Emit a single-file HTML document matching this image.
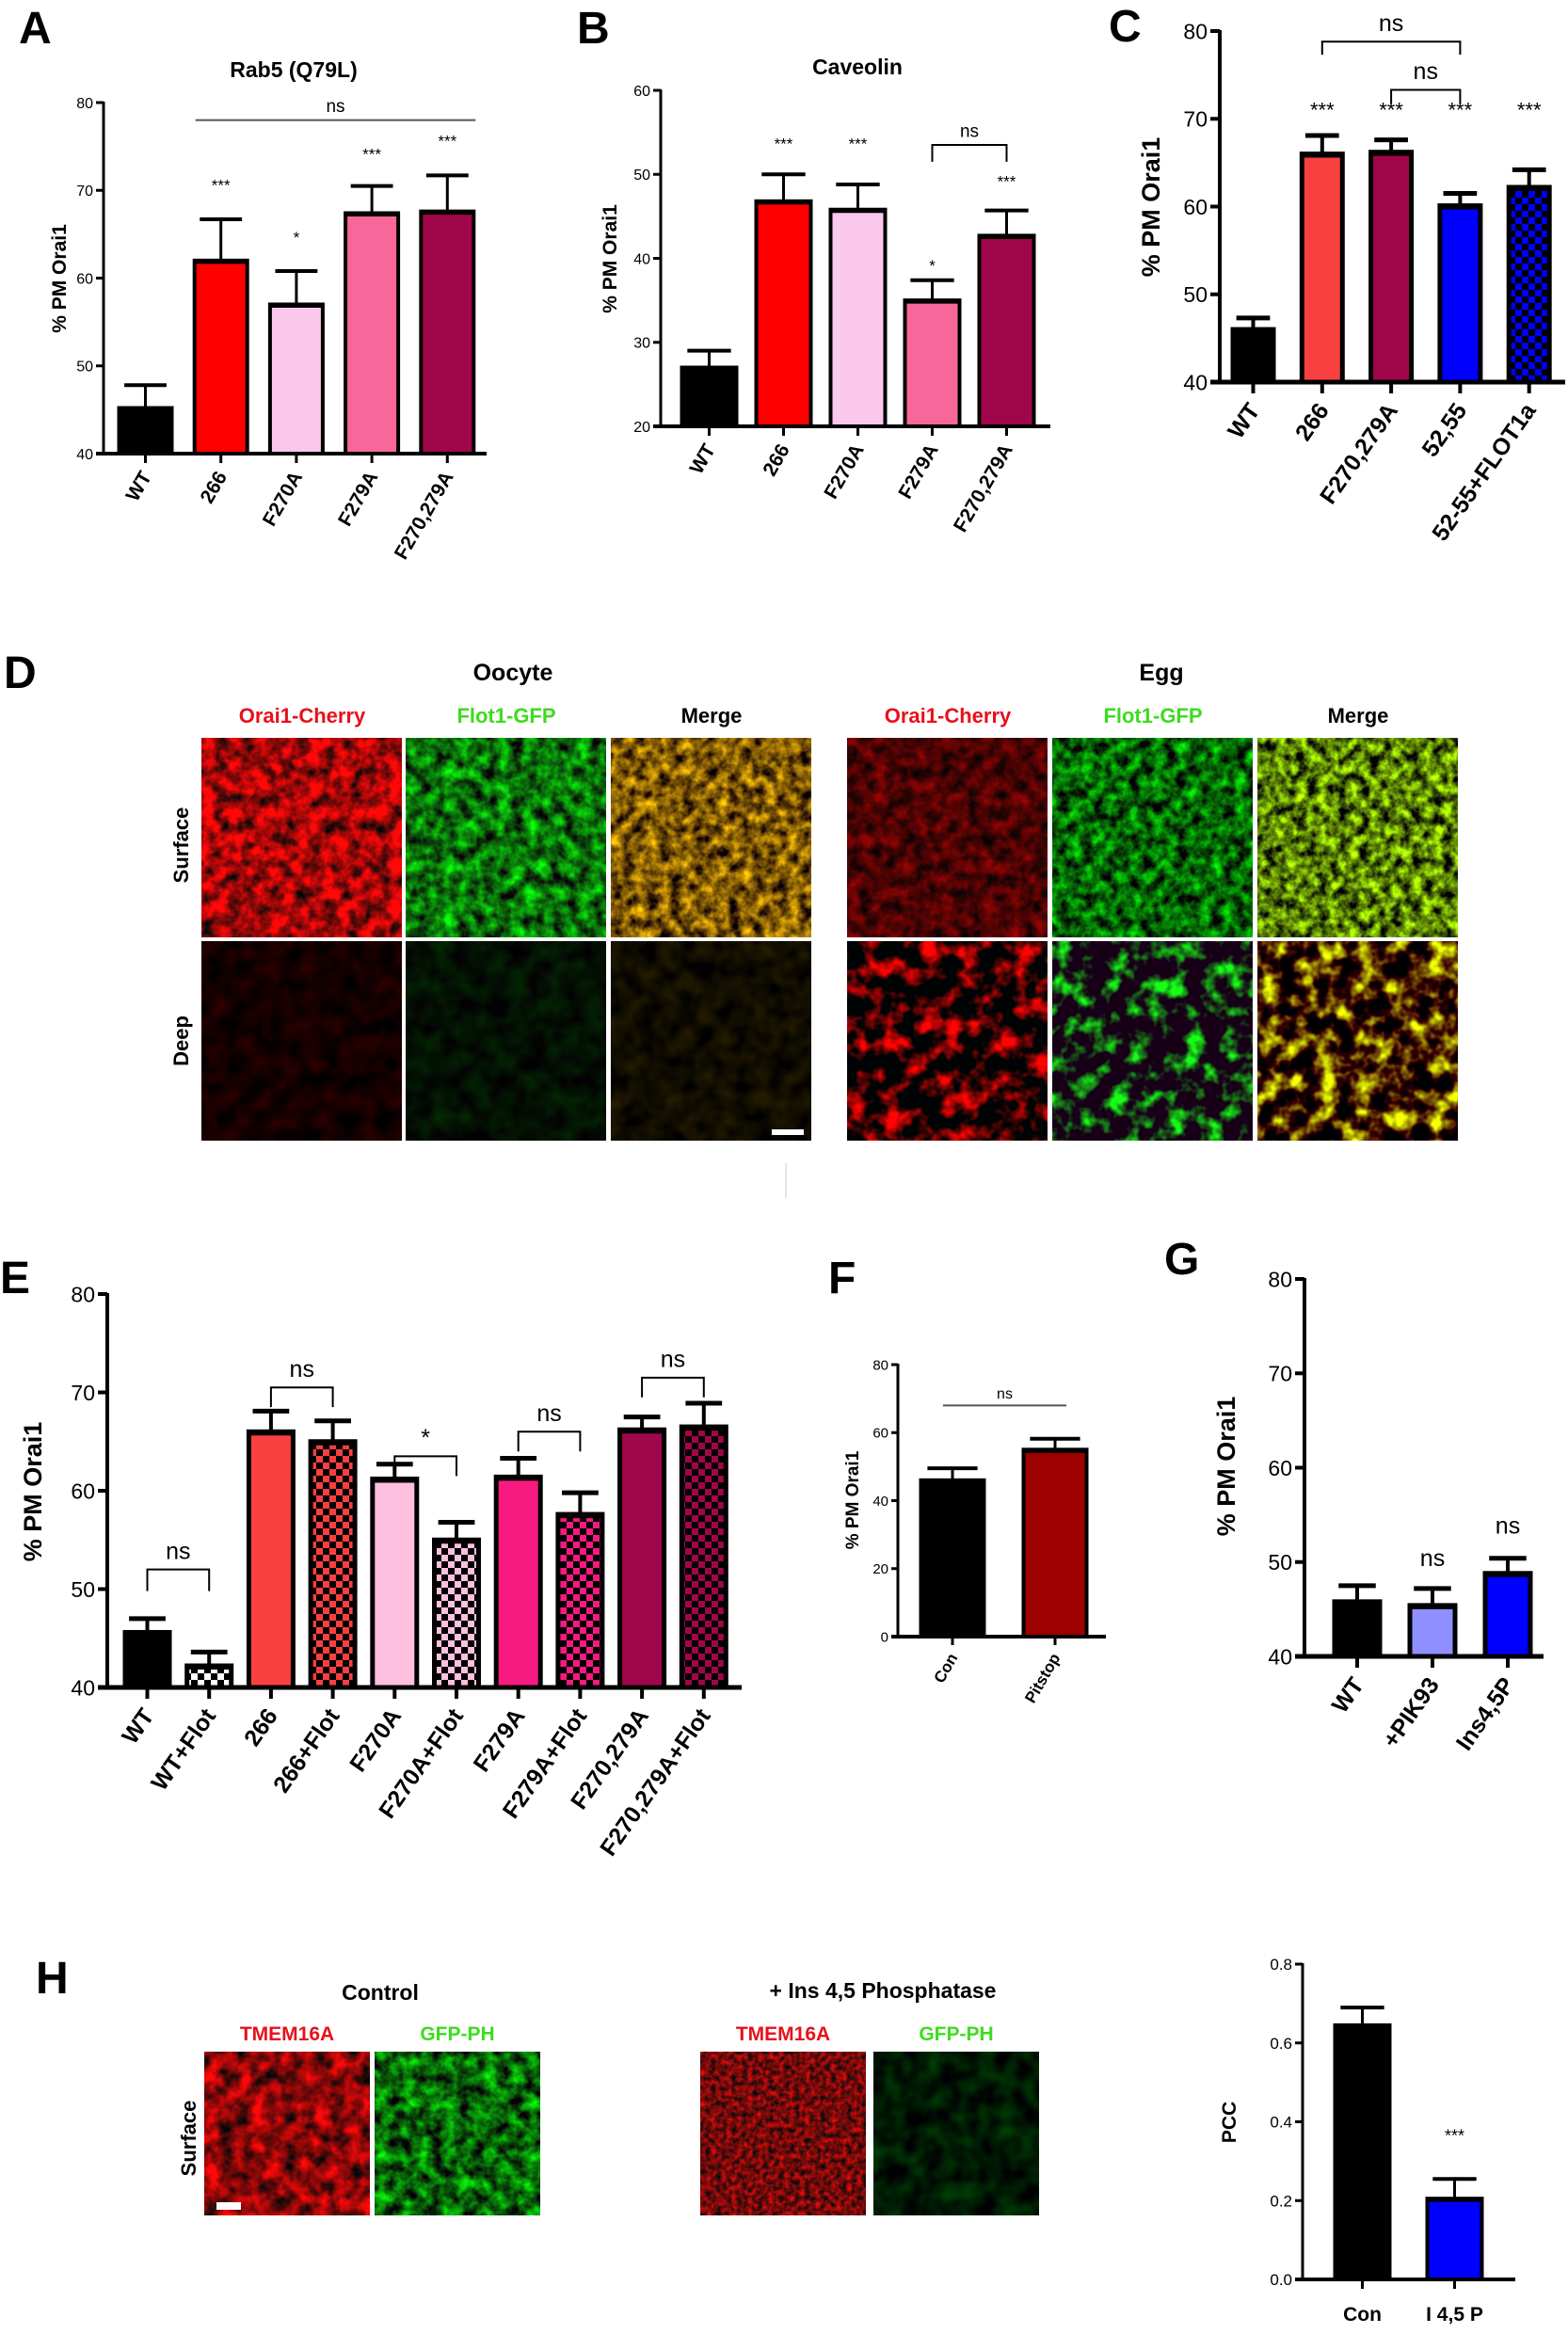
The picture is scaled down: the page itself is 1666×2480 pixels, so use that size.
<!DOCTYPE html>
<html><head><meta charset="utf-8"><style>
html,body{margin:0;padding:0;background:#fff;}
svg{display:block;font-family:"Liberation Sans",Arial,sans-serif;}
filter{color-interpolation-filters:sRGB;}
</style></head><body>
<svg id="fig" xmlns="http://www.w3.org/2000/svg" width="1666" height="2480" viewBox="0 0 1666 2480">
<defs>
<pattern id="chkWhite" width="14" height="14" patternUnits="userSpaceOnUse"><rect width="14" height="14" fill="#fff"/><rect width="7" height="7" fill="#000"/><rect x="7" y="7" width="7" height="7" fill="#000"/></pattern>
<pattern id="chkRed" width="14" height="14" patternUnits="userSpaceOnUse"><rect width="14" height="14" fill="#f94040"/><rect width="7" height="7" fill="#000"/><rect x="7" y="7" width="7" height="7" fill="#000"/></pattern>
<pattern id="chkPink" width="14" height="14" patternUnits="userSpaceOnUse"><rect width="14" height="14" fill="#ffc0e0"/><rect width="7" height="7" fill="#000"/><rect x="7" y="7" width="7" height="7" fill="#000"/></pattern>
<pattern id="chkHot" width="14" height="14" patternUnits="userSpaceOnUse"><rect width="14" height="14" fill="#f71a80"/><rect width="7" height="7" fill="#000"/><rect x="7" y="7" width="7" height="7" fill="#000"/></pattern>
<pattern id="chkMaroon" width="14" height="14" patternUnits="userSpaceOnUse"><rect width="14" height="14" fill="#a0064a"/><rect width="7" height="7" fill="#000"/><rect x="7" y="7" width="7" height="7" fill="#000"/></pattern>
<pattern id="chkBlue" width="14" height="14" patternUnits="userSpaceOnUse"><rect width="14" height="14" fill="#0000ff"/><rect width="7" height="7" fill="#000"/><rect x="7" y="7" width="7" height="7" fill="#000"/></pattern>
<filter id="fRedS" x="0" y="0" width="1" height="1" color-interpolation-filters="sRGB"><feTurbulence type="fractalNoise" baseFrequency="0.07" numOctaves="3" seed="2"/><feColorMatrix type="matrix" values="2.0 0 0 0 -0.35  0 0 0 0 0.03  0 0 0 0 0.03  0 0 0 0 1"/></filter>
<filter id="fGreenS" x="0" y="0" width="1" height="1" color-interpolation-filters="sRGB"><feTurbulence type="fractalNoise" baseFrequency="0.07" numOctaves="3" seed="3"/><feColorMatrix type="matrix" values="0 0 0 0 0.04  1.6 0 0 0 -0.35  0 0 0 0 0.04  0 0 0 0 1"/></filter>
<filter id="fYelS" x="0" y="0" width="1" height="1" color-interpolation-filters="sRGB"><feTurbulence type="fractalNoise" baseFrequency="0.08" numOctaves="3" seed="4"/><feColorMatrix type="matrix" values="1.6 0 0 0 -0.3  1.3 0 0 0 -0.3  0 0 0 0 0.02  0 0 0 0 1"/></filter>
<filter id="fRedD" x="0" y="0" width="1" height="1" color-interpolation-filters="sRGB"><feTurbulence type="fractalNoise" baseFrequency="0.05" numOctaves="2" seed="5"/><feColorMatrix type="matrix" values="0.3 0 0 0 -0.07  0 0 0 0 0  0 0 0 0 0  0 0 0 0 1"/></filter>
<filter id="fGreenD" x="0" y="0" width="1" height="1" color-interpolation-filters="sRGB"><feTurbulence type="fractalNoise" baseFrequency="0.05" numOctaves="2" seed="6"/><feColorMatrix type="matrix" values="0 0 0 0 0.01  0.25 0 0 0 -0.06  0 0 0 0 0.01  0 0 0 0 1"/></filter>
<filter id="fYelD" x="0" y="0" width="1" height="1" color-interpolation-filters="sRGB"><feTurbulence type="fractalNoise" baseFrequency="0.05" numOctaves="2" seed="7"/><feColorMatrix type="matrix" values="0.25 0 0 0 -0.06  0.2 0 0 0 -0.05  0 0 0 0 0  0 0 0 0 1"/></filter>
<filter id="fRedE" x="0" y="0" width="1" height="1" color-interpolation-filters="sRGB"><feTurbulence type="fractalNoise" baseFrequency="0.07" numOctaves="3" seed="8"/><feColorMatrix type="matrix" values="0.9 0 0 0 -0.15  0 0 0 0 0.01  0 0 0 0 0.01  0 0 0 0 1"/></filter>
<filter id="fGreenE" x="0" y="0" width="1" height="1" color-interpolation-filters="sRGB"><feTurbulence type="fractalNoise" baseFrequency="0.08" numOctaves="3" seed="9"/><feColorMatrix type="matrix" values="0 0 0 0 0.02  1.6 0 0 0 -0.4  0 0 0 0 0.02  0 0 0 0 1"/></filter>
<filter id="fYelE" x="0" y="0" width="1" height="1" color-interpolation-filters="sRGB"><feTurbulence type="fractalNoise" baseFrequency="0.09" numOctaves="3" seed="10"/><feColorMatrix type="matrix" values="1.4 0 0 0 -0.35  2.0 0 0 0 -0.5  0 0 0 0 0.02  0 0 0 0 1"/></filter>
<filter id="fRedB" x="0" y="0" width="1" height="1" color-interpolation-filters="sRGB"><feTurbulence type="fractalNoise" baseFrequency="0.05" numOctaves="3" seed="11"/><feColorMatrix type="matrix" values="3.0 0 0 0 -1.3  0 0 0 0 0.01  0 0 0 0 0.01  0 0 0 0 1"/></filter>
<filter id="fGreenB" x="0" y="0" width="1" height="1" color-interpolation-filters="sRGB"><feTurbulence type="fractalNoise" baseFrequency="0.05" numOctaves="3" seed="12"/><feColorMatrix type="matrix" values="0 0 0 0 0.09  3.2 0 0 0 -1.5  0 0 0 0 0.09  0 0 0 0 1"/></filter>
<filter id="fYelB" x="0" y="0" width="1" height="1" color-interpolation-filters="sRGB"><feTurbulence type="fractalNoise" baseFrequency="0.05" numOctaves="3" seed="13"/><feColorMatrix type="matrix" values="2.4 0 0 0 -0.9  3.5 0 0 0 -1.65  0 0 0 0 0.01  0 0 0 0 1"/></filter>
<filter id="fRedH1" x="0" y="0" width="1" height="1" color-interpolation-filters="sRGB"><feTurbulence type="fractalNoise" baseFrequency="0.06" numOctaves="3" seed="14"/><feColorMatrix type="matrix" values="1.8 0 0 0 -0.35  0 0 0 0 0.03  0 0 0 0 0.03  0 0 0 0 1"/></filter>
<filter id="fGreenH1" x="0" y="0" width="1" height="1" color-interpolation-filters="sRGB"><feTurbulence type="fractalNoise" baseFrequency="0.07" numOctaves="3" seed="15"/><feColorMatrix type="matrix" values="0 0 0 0 0.03  1.6 0 0 0 -0.4  0 0 0 0 0.03  0 0 0 0 1"/></filter>
<filter id="fRedH2" x="0" y="0" width="1" height="1" color-interpolation-filters="sRGB"><feTurbulence type="fractalNoise" baseFrequency="0.18" numOctaves="2" seed="16"/><feColorMatrix type="matrix" values="1.4 0 0 0 -0.25  0 0 0 0 0.04  0 0 0 0 0.04  0 0 0 0 1"/></filter>
<filter id="fGreenH2" x="0" y="0" width="1" height="1" color-interpolation-filters="sRGB"><feTurbulence type="fractalNoise" baseFrequency="0.05" numOctaves="2" seed="17"/><feColorMatrix type="matrix" values="0 0 0 0 0  0.4 0 0 0 -0.1  0 0 0 0 0.01  0 0 0 0 1"/></filter>
</defs>
<g id="root"></g>
</svg>
<script>
// ===== Chart data =====
const aCats=['WT','266','F270A','F279A','F270,279A'];
const aVals=[45.2,62.0,57.0,67.4,67.6];
const aErrs=[2.6,4.7,3.8,3.1,4.1];
const aStars=['','***','*','***','***'];
const aStarLv=[0,70,64,73.5,75];
const aTicks=[40,50,60,70,80];

const bCats=['WT','266','F270A','F279A','F270,279A'];
const bVals=[27.0,46.8,45.8,35.0,42.7];
const bErrs=[2.0,3.2,3.0,2.4,3.0];
const bStars=['','***','***','*','***'];
const bStarLv=[0,53,53,38.5,48.5];
const bTicks=[20,30,40,50,60];

const cCats=['WT','266','F270,279A','52,55','52-55+FLOT1a'];
const cVals=[46.0,66.0,66.2,60.1,62.2];
const cErrs=[1.3,2.1,1.4,1.4,2.0];
const cStars=['','***','***','***','***'];
const cStarLv=[0,70.2,70.2,70.2,70.2];
const cTicks=[40,50,60,70,80];

const eCats=['WT','WT+Flot','266','266+Flot','F270A','F270A+Flot','F279A','F279A+Flot','F270,279A','F270,279A+Flot'];
const eVals=[45.6,42.2,66.0,65.0,61.2,55.0,61.4,57.6,66.2,66.5];
const eErrs=[1.4,1.4,2.1,2.1,1.5,1.8,1.9,2.2,1.3,2.4];
const eTicks=[40,50,60,70,80];

const fCats=['Con','Pitstop'];
const fVals=[46.0,55.0];
const fErrs=[3.5,3.2];
const fTicks=[0,20,40,60,80];

const gCats=['WT','+PIK93','Ins4,5P'];
const gVals=[45.8,45.4,48.8];
const gErrs=[1.7,1.8,1.6];
const gStars=['','ns','ns'];
const gStarLv=[0,49.6,53.0];
const gTicks=[40,50,60,70,80];

const hCats=['Con','I 4,5 P'];
const hVals=[0.645,0.205];
const hErrs=[0.045,0.05];
const hStars=['','***'];
const hStarLv=[0,0.35];
const hTicks=[0.0,0.2,0.4,0.6,0.8];

const NS='http://www.w3.org/2000/svg';
const root=document.getElementById('root');
function mk(tag,attrs,parent){const e=document.createElementNS(NS,tag);for(const k in attrs)e.setAttribute(k,attrs[k]);(parent||root).appendChild(e);return e;}
function txt(s,attrs,parent){const e=mk('text',attrs,parent);e.textContent=s;return e;}

function chart(L,cats,vals,errs,fills,tickVals,tickFmt){
  const g=mk('g',{});
  
  
  const y=v=>L.y0-(v-L.vmin)/(L.vmax-L.vmin)*(L.y0-L.y1);
  const cx=i=>L.bx0+i*L.step+L.bw/2;
  cats.forEach((c,i)=>{
    const top=y(vals[i]);
    const eb=mk('line',{x1:cx(i),x2:cx(i),y1:top,y2:y(vals[i]+errs[i]),stroke:'#000','stroke-width':L.lw},g);
    
    
    const cap=mk('line',{x1:cx(i)-L.bw*0.38,x2:cx(i)+L.bw*0.38,y1:y(vals[i]+errs[i]),y2:y(vals[i]+errs[i]),stroke:'#000','stroke-width':L.lw+1},g);
    
    
    const r=mk('rect',{x:L.bx0+i*L.step+L.lw/2,y:top,width:L.bw-L.lw,height:L.y0-top,fill:fills[i],stroke:'#000','stroke-width':L.lw+1},g);
    
    
    const tl=mk('line',{x1:L.bx0+i*L.step,x2:L.bx0+i*L.step+L.bw,y1:top+1,y2:top+1,stroke:'#000','stroke-width':L.lw+2},g);
    
    
    const tk=mk('line',{x1:cx(i),x2:cx(i),y1:L.y0,y2:L.y0+L.tick+2,stroke:'#000','stroke-width':L.lw},g);
    
    
    let lb;
    if(L.rot){
      const lx=cx(i)+L.lox, ly=L.y0+L.loy;
      lb=txt(c,{x:lx,y:ly,'font-size':L.lf,'font-weight':'bold','text-anchor':'end',transform:`rotate(${L.rot} ${lx} ${ly})`},g);
    } else {
      lb=txt(c,{x:cx(i),y:L.y0+L.loy,'font-size':L.lf,'font-weight':'bold','text-anchor':'middle'},g);
    }
    
    
  });
  const ya=mk('line',{x1:L.ax,x2:L.ax,y1:L.y1-1,y2:L.y0+L.lw/2,stroke:'#000','stroke-width':L.lw},g);
  
  
  const xa=mk('line',{x1:L.ax-L.tick,x2:L.xEnd,y1:L.y0,y2:L.y0,stroke:'#000','stroke-width':L.lw+1},g);
  
  
  tickVals.forEach(t=>{
    const tl=mk('line',{x1:L.ax-L.tick,x2:L.ax,y1:y(t),y2:y(t),stroke:'#000','stroke-width':L.lw},g);
    
    
    const tt=txt(tickFmt(t),{x:L.ax-L.tick-3,y:y(t)+L.tf*0.36,'font-size':L.tf,'text-anchor':'end'},g);
    
    
  });
  const yl=txt(L.ylab,{x:L.ylx,y:L.yly,'font-size':L.ylf,'font-weight':'bold','text-anchor':'middle',transform:`rotate(-90 ${L.ylx} ${L.yly})`},g);
  
  
  return {g,y,cx};
}
function stars(C,labels,levels,size){
  labels.forEach((s,i)=>{ if(!s)return;
    const t=txt(s,{x:C.cx(i),y:C.y(levels[i]),'font-size':size,'text-anchor':'middle'},C.g);
    
    
  });
}
function bracket(C,i,j,lv,drop,label,size,lw){
  const y=C.y(lv), yd=C.y(lv-drop);
  const p=mk('path',{d:`M${C.cx(i)} ${yd} L${C.cx(i)} ${y} L${C.cx(j)} ${y} L${C.cx(j)} ${yd}`,fill:'none',stroke:'#000','stroke-width':lw},C.g);
  
  
  const t=txt(label,{x:(C.cx(i)+C.cx(j))/2,y:y-size*0.45,'font-size':size,'text-anchor':'middle'},C.g);
  
  
}
function lineAnn(C,x1,x2,lv,label,size){
  const y=C.y(lv);
  const l=mk('line',{x1:x1,x2:x2,y1:y,y2:y,stroke:'#555','stroke-width':2},C.g);
  
  
  const t=txt(label,{x:(x1+x2)/2,y:y-size*0.45,'font-size':size,'text-anchor':'middle'},C.g);
  
  
}
function panelLetter(s,x,y){const t=txt(s,{x:x,y:y,'font-size':48,'font-weight':'bold'});}
const i0=v=>String(v), d1=v=>v.toFixed(1);

// ===== A =====
panelLetter('A',20,46);
{const t=txt('Rab5 (Q79L)',{x:312,y:82,'font-size':23,'font-weight':'bold','text-anchor':'middle'});}
const A=chart({name:'chart-a',ax:110,y0:482,y1:109,vmin:40,vmax:80,xEnd:517,bx0:125,step:80.2,bw:59,lw:3,tick:8,tf:16,lf:21,rot:-60,lox:7,loy:24,ylab:'% PM Orai1',ylx:70,yly:296,ylf:21},
  aCats,aVals,aErrs,['#000','#ff0000','#f9c8ec','#f7679a','#a0064a'],aTicks,i0);
stars(A,aStars,aStarLv,17);
lineAnn(A,A.cx(1)-27,A.cx(4)+30,78,'ns',19);

// ===== B =====
panelLetter('B',613,46);
{const t=txt('Caveolin',{x:911,y:79,'font-size':23,'font-weight':'bold','text-anchor':'middle'});}
const B=chart({name:'chart-b',ax:702,y0:453,y1:96,vmin:20,vmax:60,xEnd:1116,bx0:723,step:79,bw:61,lw:3,tick:8,tf:16,lf:21,rot:-60,lox:7,loy:24,ylab:'% PM Orai1',ylx:655,yly:275,ylf:21},
  bCats,bVals,bErrs,['#000','#ff0000','#f9c8ec','#f7679a','#a0064a'],bTicks,i0);
stars(B,bStars,bStarLv,17);
bracket(B,3,4,53.5,2,'ns',19,2);

// ===== C =====
panelLetter('C',1178,44);
const C=chart({name:'chart-c',ax:1296,y0:406,y1:33,vmin:40,vmax:80,xEnd:1663,bx0:1308,step:73.3,bw:47,lw:4,tick:10,tf:23,lf:25,rot:-55,lox:8,loy:30,ylab:'% PM Orai1',ylx:1232,yly:220,ylf:27},
  cCats,cVals,cErrs,['#000','#f94040','#a0064a','#0000ff','url(#chkBlue)'],cTicks,i0);
stars(C,cStars,cStarLv,22);
bracket(C,1,3,78.8,1.5,'ns',25,2);
bracket(C,2,3,73.3,1.6,'ns',25,2);

// ===== D (microscopy) =====
panelLetter('D',4,731);
function lab(s,x,y,size,color,name,rot){
  const a={x:x,y:y,'font-size':size,'font-weight':'bold','text-anchor':'middle',fill:color};
  if(rot)a.transform=`rotate(-90 ${x} ${y})`;
  const t=txt(s,a);return t;
}
lab('Oocyte',545,723,25,'#000','oocyte-title');
lab('Egg',1234,723,25,'#000','egg-title');
const colX=[214,431,649,900,1118,1336];
const colName=['Orai1-Cherry','Flot1-GFP','Merge','Orai1-Cherry','Flot1-GFP','Merge'];
const colCol=['#e8101a','#3cdc1e','#000','#e8101a','#3cdc1e','#000'];
colX.forEach((x,i)=>lab(colName[i],x+107,768,22,colCol[i],'column-label-'+i));
lab('Surface',200,898,22,'#000','row-label-surface',true);
lab('Deep',200,1106,22,'#000','row-label-deep',true);
const dFilters=[['fRedS','fGreenS','fYelS','fRedE','fGreenE','fYelE'],['fRedD','fGreenD','fYelD','fRedB','fGreenB','fYelB']];
const rowY=[784,1000];
rowY.forEach((ry,r)=>colX.forEach((x,c)=>{
  const im=mk('rect',{x:x,y:ry,width:213,height:212,fill:'#000',filter:`url(#${dFilters[r][c]})`});
  
  
}));
{const sb=mk('rect',{x:820,y:1200,width:34,height:6,fill:'#fff'});}
{const dl=mk('line',{x1:835,x2:835,y1:1236,y2:1273,stroke:'#ccc','stroke-width':1});}

// ===== E =====
panelLetter('E',0,1374);
const E=chart({name:'chart-e',ax:114,y0:1793,y1:1375,vmin:40,vmax:80,xEnd:788,bx0:131,step:65.7,bw:51,lw:4,tick:10,tf:23,lf:25,rot:-55,lox:8,loy:30,ylab:'% PM Orai1',ylx:44,yly:1585,ylf:27},
  eCats,eVals,eErrs,['#000','url(#chkWhite)','#f94040','url(#chkRed)','#ffc0e0','url(#chkPink)','#f71a80','url(#chkHot)','#a0064a','url(#chkMaroon)'],eTicks,i0);
bracket(E,0,1,52,2.2,'ns',25,2);
bracket(E,2,3,70.5,2,'ns',25,2);
bracket(E,4,5,63.5,2,'*',25,2);
bracket(E,6,7,66,2,'ns',25,2);
bracket(E,8,9,71.5,2,'ns',25,2);

// ===== F =====
panelLetter('F',880,1374);
const F=chart({name:'chart-f',ax:954,y0:1739,y1:1450,vmin:0,vmax:80,xEnd:1175,bx0:977,step:109,bw:70,lw:3,tick:7,tf:15,lf:17,rot:-60,lox:6,loy:22,ylab:'% PM Orai1',ylx:912,yly:1594,ylf:19},
  fCats,fVals,fErrs,['#000','#9e0000'],fTicks,i0);
lineAnn(F,F.cx(0)-10,F.cx(1)+12,68,'ns',16);

// ===== G =====
panelLetter('G',1237,1354);
const G=chart({name:'chart-g',ax:1386,y0:1760,y1:1359,vmin:40,vmax:80,xEnd:1640,bx0:1416,step:80,bw:52,lw:4,tick:10,tf:23,lf:25,rot:-55,lox:8,loy:30,ylab:'% PM Orai1',ylx:1312,yly:1558,ylf:27},
  gCats,gVals,gErrs,['#000','#8f8fff','#0000ff'],gTicks,i0);
stars(G,gStars,gStarLv,25);

// ===== H =====
panelLetter('H',38,2118);
lab('Control',404,2125,23,'#000','control-title');
lab('+ Ins 4,5 Phosphatase',938,2123,23,'#000','phosphatase-title');
const hX=[217,398,744,928];
const hNames=['TMEM16A','GFP-PH','TMEM16A','GFP-PH'];
const hCol=['#e8101a','#3cdc1e','#e8101a','#3cdc1e'];
const hF=['fRedH1','fGreenH1','fRedH2','fGreenH2'];
hX.forEach((x,i)=>{
  lab(hNames[i],x+88,2168,21,hCol[i],'h-column-label-'+i);
  const im=mk('rect',{x:x,y:2180,width:176,height:174,fill:'#000',filter:`url(#${hF[i]})`});
  
  
});
lab('Surface',208,2272,22,'#000','row-label-surface-h',true);
{const sb=mk('rect',{x:230,y:2340,width:26,height:8,fill:'#fff'});}
const H=chart({name:'chart-h',ax:1384,y0:2422,y1:2087,vmin:0,vmax:0.8,xEnd:1610,bx0:1417,step:98,bw:61,lw:3,tick:8,tf:17,lf:21,rot:0,lox:0,loy:44,ylab:'PCC',ylx:1313,yly:2255,ylf:21},
  hCats,hVals,hErrs,['#000','#0000ff'],hTicks,d1);
stars(H,hStars,hStarLv,18);
</script>
</body></html>
